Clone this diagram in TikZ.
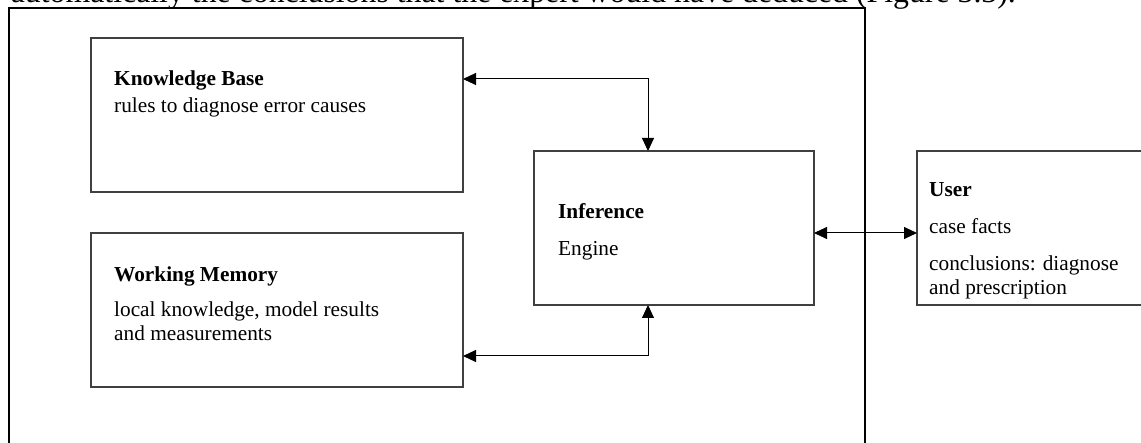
\documentclass[tikz,border=0pt]{standalone}
\usepackage{fontspec}
\setmainfont{Liberation Serif}
\usetikzlibrary{arrows.meta,calc}

\begin{document}
\begin{tikzpicture}[x=1pt,y=-1pt,
	box/.style={shape=rectangle, draw=black!75, line width=1.3pt, minimum width=372pt, minimum height=154pt, anchor=north west, inner sep=0pt, outer sep=0pt},
	txt/.style={anchor=base west, inner sep=0pt, font=\fontsize{21.3}{24}\selectfont},
	head/.style={txt, font=\fontsize{21.3}{24}\selectfont\bfseries},
	link/.style={line width=1pt, {Triangle[length=13pt,width=12pt]}-{Triangle[length=13pt,width=12pt]}}]
	\useasboundingbox (0,0) rectangle (1141,443);
	\clip (0,0) rectangle (1141,443);
	\node[anchor=base east, inner sep=0pt, font=\fontsize{31.8}{34}\selectfont] (intro) at (1016,2.5) {automatically the conclusions that the expert would have deduced (Figure 3.3).};
	\node[box, draw=black, minimum width=856pt, minimum height=470pt] (frame) at (9,8) {};
	\node[box] (kb) at (91,38) {};
	\node[box] (wm) at (91,233) {};
	\node[box, minimum width=280pt] (inf) at (534,151) {};
	\node[box, minimum width=260pt] (user) at (917,151) {};
	\node[head] (kbt) at (114,86) {Knowledge Base};
	\node[txt] (kbs) at (114,113) {rules to diagnose error causes};
	\node[head] (wmt) at (114,282) {Working Memory};
	\node[txt] (wms) at (114,317) {local knowledge, model results};
	\node[txt] (wmu) at (114,341) {and measurements};
	\node[head] (inft) at (558,219) {Inference};
	\node[txt] (infs) at (558,256) {Engine};
	\node[head] (usert) at (929,197) {User};
	\node[txt] (users) at (929,234) {case facts};
	\node[txt] (useru) at (929,271) {conclusions: diagnose};
	\node[txt] (userv) at (929,295) {and prescription};
	\draw[link] ($(kb.north east)+(0,41)$) -| ([xshift=-26pt]inf.north);
	\draw[link] ($(wm.south east)+(0,-31)$) -| ([xshift=-26pt]inf.south);
	\draw[link] ([yshift=-5pt]inf.east) -- ([yshift=-5pt]user.west);
\end{tikzpicture}
\end{document}
